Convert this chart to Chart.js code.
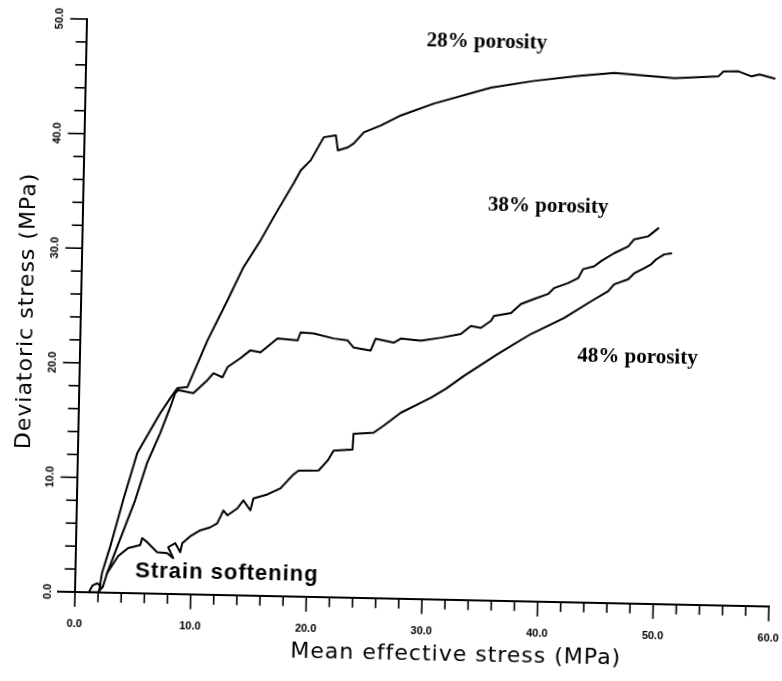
<!DOCTYPE html>
<html lang="en">
<head>
<meta charset="UTF-8">
<title>Stress paths</title>
<script src="https://cdn.jsdelivr.net/npm/chart.js"></script>
<style>
  body { margin: 0; background: #fff; overflow: hidden; }
  /* the plotted sheet sits slightly skewed on the page */
  .chart-container {
    width: 782px;
    height: 681px;
    position: relative;
    transform: rotate(1.2deg);
    transform-origin: 75px 592px;
  }
</style>
</head>
<body>
<div class="chart-container"><canvas id="stressPathChart"></canvas></div>
<script>
// stress paths as [mean effective stress, deviatoric stress], MPa
const porosity28 = [
  [1.2, 0], [1.5, 0.6], [1.9, 0.8], [2.2, 0.6], [2.1, 0.2], [2.2, 1.0], [2.3, 1.7],
  [2.95, 3.98], [4.0, 8.11], [5.13, 12.24], [7.05, 15.77], [7.89, 17.09],
  [8.48, 17.98], [9.34, 18.08], [11.0, 22.2], [12.66, 25.74], [13.98, 28.65],
  [15.41, 31.03], [16.49, 33.06], [18.16, 36.06], [18.75, 37.2], [19.6, 38.1],
  [20.68, 40.13], [21.72, 40.32], [21.92, 39.01], [22.78, 39.29], [23.29, 39.65],
  [24.14, 40.63], [25.6, 41.27], [27.31, 42.17], [30.15, 43.27], [35.06, 44.76],
  [38.77, 45.43], [42.57, 45.94], [45.68, 46.26], [50.88, 45.92], [54.69, 46.17],
  [55.12, 46.6], [56.42, 46.63], [57.55, 46.22], [58.23, 46.4], [59.54, 46.08]
];
const porosity38 = [
  [1.2, 0], [2.0, 0.05], [2.4, 0.5], [2.74, 1.71], [3.56, 4.0], [5.04, 8.13],
  [6.0, 11.4], [7.08, 14.02], [7.9, 16.3], [8.31, 17.54], [8.57, 17.81],
  [9.87, 17.56], [11.06, 18.72], [11.57, 19.34], [12.36, 19.0], [12.77, 19.89],
  [13.88, 20.7], [14.73, 21.41], [15.6, 21.25], [17.05, 22.5], [18.79, 22.36],
  [19.03, 23.06], [20.16, 23.0], [21.9, 22.59], [23.12, 22.44], [23.65, 21.83],
  [25.12, 21.6], [25.53, 22.65], [27.1, 22.33], [27.7, 22.7], [29.44, 22.55],
  [31.16, 22.85], [32.88, 23.22], [33.74, 23.94], [34.6, 23.78], [35.46, 24.41],
  [35.71, 24.85], [37.18, 25.14], [38.03, 25.94], [39.14, 26.4], [40.35, 26.86],
  [40.86, 27.39], [42.06, 27.85], [42.92, 28.3], [43.33, 29.09], [44.29, 29.37],
  [44.88, 29.83], [45.99, 30.54], [47.2, 31.17], [47.7, 31.79], [48.91, 32.08],
  [49.76, 32.8]
];
const porosity48 = [
  [2.74, 1.71], [3.66, 3.21], [4.51, 3.93], [5.55, 4.21], [5.71, 4.82], [6.15, 4.48],
  [7.03, 3.62], [7.9, 3.55], [8.43, 3.12], [7.97, 4.08], [8.57, 4.44], [9.02, 3.66],
  [9.18, 4.45], [9.86, 5.07], [10.72, 5.61], [11.58, 5.89], [12.17, 6.25],
  [12.68, 7.39], [13.03, 6.96], [13.88, 7.59], [14.39, 8.3], [15.01, 7.44],
  [15.25, 8.49], [16.45, 8.86], [17.57, 9.41], [18.67, 10.65], [19.1, 11.0],
  [20.83, 11.04], [21.59, 11.92], [22.1, 12.8], [23.73, 12.93], [23.79, 14.32],
  [25.52, 14.44], [26.38, 15.07], [27.83, 16.23], [29.54, 17.14], [30.4, 17.59],
  [31.68, 18.4], [33.22, 19.56], [36.12, 21.54], [38.94, 23.34], [41.77, 24.79],
  [44.09, 26.31], [45.54, 27.21], [46.04, 27.83], [47.25, 28.29], [47.76, 28.82],
  [48.61, 29.28], [49.21, 29.64], [49.64, 30.08], [50.32, 30.53], [50.93, 30.63]
];

const xTickLabels = ['0.0', '10.0', '20.0', '30.0', '40.0', '50.0', '60.0'];
const yTickLabels = ['0.0', '10.0', '20.0', '30.0', '40.0', '50.0'];
const seriesNames = ['28% porosity', '38% porosity', '48% porosity'];
const noteText = 'Strain softening';
const xTitle = 'Mean effective stress (MPa)';
const yTitle = 'Deviatoric stress (MPa)';

function toPoints(arr) {
  return arr.map(p => ({ x: p[0], y: p[1] }));
}

// axes, tick marks, tick labels, titles and curve labels
const axisDecor = {
  id: 'axisDecor',
  afterDraw(chart) {
    const { ctx, scales: { x, y } } = chart;
    const x0 = x.getPixelForValue(0);
    const y0 = y.getPixelForValue(0);
    ctx.save();
    ctx.strokeStyle = '#000';
    ctx.fillStyle = '#000';
    ctx.lineCap = 'square';

    ctx.lineWidth = 2;
    ctx.beginPath();
    ctx.moveTo(x0 - 17, y0);
    ctx.lineTo(x.getPixelForValue(60), y0);
    ctx.moveTo(x0, y0);
    ctx.lineTo(x0, y.getPixelForValue(50));
    ctx.stroke();

    ctx.lineWidth = 1.6;
    x.ticks.forEach(t => {
      const px = x.getPixelForValue(t.value);
      const len = t.value % 10 === 0 ? 14 : 9;
      ctx.beginPath();
      ctx.moveTo(px, y0);
      ctx.lineTo(px, y0 + len);
      ctx.stroke();
    });
    y.ticks.forEach(t => {
      const py = y.getPixelForValue(t.value);
      const len = t.value % 10 === 0 ? 16 : 10;
      ctx.beginPath();
      ctx.moveTo(x0, py);
      ctx.lineTo(x0 - len, py);
      ctx.stroke();
    });

    ctx.font = 'bold 11px "Liberation Sans"';
    ctx.textAlign = 'center';
    ctx.textBaseline = 'middle';
    xTickLabels.forEach((lbl, i) => {
      ctx.fillText(lbl, x.getPixelForValue(i * 10), y0 + 32);
    });
    yTickLabels.forEach((lbl, i) => {
      ctx.save();
      ctx.translate(x0 - 27, y.getPixelForValue(i * 10));
      ctx.rotate(-Math.PI / 2);
      ctx.fillText(lbl, 0, 0);
      ctx.restore();
    });

    ctx.font = '22px "DejaVu Sans"';
    ctx.letterSpacing = '1px';
    ctx.fillText(xTitle, 457, 647);
    ctx.save();
    ctx.translate(21, 312);
    ctx.rotate(-Math.PI / 2);
    ctx.fillText(yTitle, 0, 0);
    ctx.restore();
    ctx.letterSpacing = '0px';

    ctx.font = 'bold 21px "Liberation Serif"';
    ctx.fillText(seriesNames[0], x.getPixelForValue(34.6), y.getPixelForValue(48.7));
    ctx.fillText(seriesNames[1], x.getPixelForValue(40.2), y.getPixelForValue(34.5));
    ctx.fillText(seriesNames[2], x.getPixelForValue(48.2), y.getPixelForValue(21.5));

    ctx.font = 'bold 22px "Liberation Sans"';
    ctx.letterSpacing = '1px';
    ctx.fillText(noteText, x.getPixelForValue(13.1), y.getPixelForValue(1.94));
    ctx.restore();
  }
};

const lineStyle = {
  showLine: true,
  borderColor: '#000',
  borderWidth: 2,
  pointRadius: 0,
  tension: 0,
  borderJoinStyle: 'round',
  borderCapStyle: 'round'
};

new Chart(document.getElementById('stressPathChart').getContext('2d'), {
  type: 'scatter',
  data: {
    datasets: [
      { label: seriesNames[0], data: toPoints(porosity28), ...lineStyle },
      { label: seriesNames[1], data: toPoints(porosity38), ...lineStyle },
      { label: seriesNames[2], data: toPoints(porosity48), ...lineStyle }
    ]
  },
  options: {
    responsive: true,
    maintainAspectRatio: false,
    animation: false,
    layout: { padding: { left: 75, right: 13, top: 19, bottom: 89 } },
    plugins: { legend: { display: false }, tooltip: { enabled: false } },
    scales: {
      x: { type: 'linear', display: false, min: 0, max: 60, ticks: { stepSize: 2 } },
      y: { type: 'linear', display: false, min: 0, max: 50, ticks: { stepSize: 2 } }
    }
  },
  plugins: [axisDecor]
});
</script>
</body>
</html>
